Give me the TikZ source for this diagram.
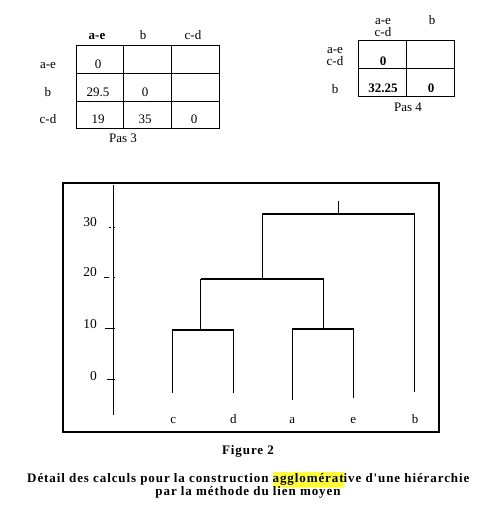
\documentclass[tikz,border=0pt]{standalone}
\usepackage{fontspec}
\setmainfont{Liberation Serif}
\newfontfamily\capfont[LetterSpace=7]{Liberation Serif}
\definecolor{hl}{RGB}{255,255,60}
\tikzset{
  tabline/.style={line width=0.9pt},
  frameline/.style={line width=1.1pt},
  dendro/.style={line width=1.1pt},
  txt/.style={font=\fontsize{13}{15}\selectfont, inner sep=0pt, anchor=base},
  btxt/.style={txt, font=\fontsize{13}{15}\selectfont\bfseries},
  axlab/.style={font=\fontsize{13.5}{15}\selectfont, inner sep=0pt, anchor=base east},
  leaf/.style={font=\fontsize{13}{15}\selectfont, inner sep=0pt, anchor=base},
  captxt/.style={font=\fontsize{13}{15}\selectfont\capfont\bfseries, inner sep=0pt, anchor=base}
}
\begin{document}
\begin{tikzpicture}[x=1pt,y=-1pt]
\useasboundingbox (0,0) rectangle (496,507);
% ---- Table Pas 3
\draw[tabline] (76,45) rectangle (219,128.3);
\draw[tabline] (76,73.3) -- (219,73.3) (76,101) -- (219,101)
  (123.3,45) -- (123.3,128.3) (171.7,45) -- (171.7,128.3);
\node[btxt] (h1) at (97,39) {a-e};
\node[txt] (h2) at (143,39) {b};
\node[txt] (h3) at (193,39) {c-d};
\node[txt] (r1) at (48,68) {a-e};
\node[txt] (r2) at (48,96) {b};
\node[txt] (r3) at (48,123) {c-d};
\node[txt] (v11) at (98,68) {0};
\node[txt] (v21) at (98,96) {29.5};
\node[txt] (v22) at (145,96) {0};
\node[txt] (v31) at (98,123) {19};
\node[txt] (v32) at (145,123) {35};
\node[txt] (v33) at (194,123) {0};
\node[txt] (pas3) at (123,142) {Pas 3};
% ---- Table Pas 4
\draw[tabline] (358.3,40) rectangle (454,96.7);
\draw[tabline] (358.3,68.3) -- (454,68.3) (406.7,40) -- (406.7,96.7);
\node[txt] (k1a) at (383,24.5) {a-e};
\node[txt] (k1b) at (383,36.5) {c-d};
\node[txt] (k2) at (432,24.5) {b};
\node[txt] (q1a) at (335,53) {a-e};
\node[txt] (q1b) at (335,65) {c-d};
\node[txt] (q2) at (335,93) {b};
\node[btxt] (w11) at (383,65) {0};
\node[btxt] (w21) at (383,92.5) {32.25};
\node[btxt] (w22) at (431,92.5) {0};
\node[txt] (pas4) at (408,111.5) {Pas 4};
% ---- Frame and axis
\draw[frameline] (63,183) rectangle (439,432);
\coordinate (axtop) at (113.3,185);
\coordinate (axbot) at (113.3,415);
\draw[line width=1pt] (axtop) -- (axbot);
\node[axlab] (l30) at (97,226) {30};
\node[axlab] (l20) at (97,276) {20};
\node[axlab] (l10) at (97,328) {10};
\node[axlab] (l0) at (97,380) {0};
\draw[line width=0.8pt] (109,227) -- (110.5,227) (113.3,227) -- (115,227);
\draw[line width=0.9pt] (104,277.5) -- (108.5,277.5) (113.3,277.5) -- (115,277.5);
\draw[line width=1.2pt] (105,328.3) -- (115,328.3);
\draw[line width=1pt] (106.5,379.3) -- (115,379.3);
% ---- Dendrogram
\coordinate (c) at (172.7,393);
\coordinate (d) at (233.3,393);
\coordinate (a) at (292.7,400);
\coordinate (e) at (353.7,398);
\coordinate (b) at (414.3,392);
\coordinate (cdL) at (172.7,330);
\coordinate (cdR) at (233.3,330);
\coordinate (cdS) at (200.7,330);
\coordinate (aeL) at (292.7,329);
\coordinate (aeR) at (353.7,329);
\coordinate (aeS) at (323.5,329);
\coordinate (mL) at (200.7,279);
\coordinate (mR) at (323.5,279);
\coordinate (mS) at (262.7,279);
\coordinate (tL) at (262.7,214);
\coordinate (tR) at (414.3,214);
\coordinate (tS) at (338.3,214);
\coordinate (tTop) at (338.3,201);
\draw[dendro] (c) -- (cdL) -- (cdR) -- (d);
\draw[dendro] (cdS) -- (mL);
\draw[dendro] (a) -- (aeL) -- (aeR) -- (e);
\draw[dendro] (aeS) -- (mR);
\draw[dendro] (mL) -- (mR);
\draw[dendro] (mS) -- (tL) -- (tR) -- (b);
\draw[dendro] (tS) -- (tTop);
\node[leaf] (lc) at (173.3,423) {c};
\node[leaf] (ld) at (233.3,423) {d};
\node[leaf] (la) at (292.3,423) {a};
\node[leaf] (le) at (353.3,423) {e};
\node[leaf] (lb) at (415,423) {b};
% ---- Caption
\node[captxt] (fig) at (248,454.5) {Figure 2};
\node[captxt] (cap1) at (248.3,482) {D\'etail des calculs pour la construction {\setlength\fboxsep{0pt}\colorbox{hl}{\strut agglom\'erat}}ive d'une hi\'erarchie};
\node[captxt] (cap2) at (248,495) {par la m\'ethode du lien moyen};
\end{tikzpicture}
\end{document}
